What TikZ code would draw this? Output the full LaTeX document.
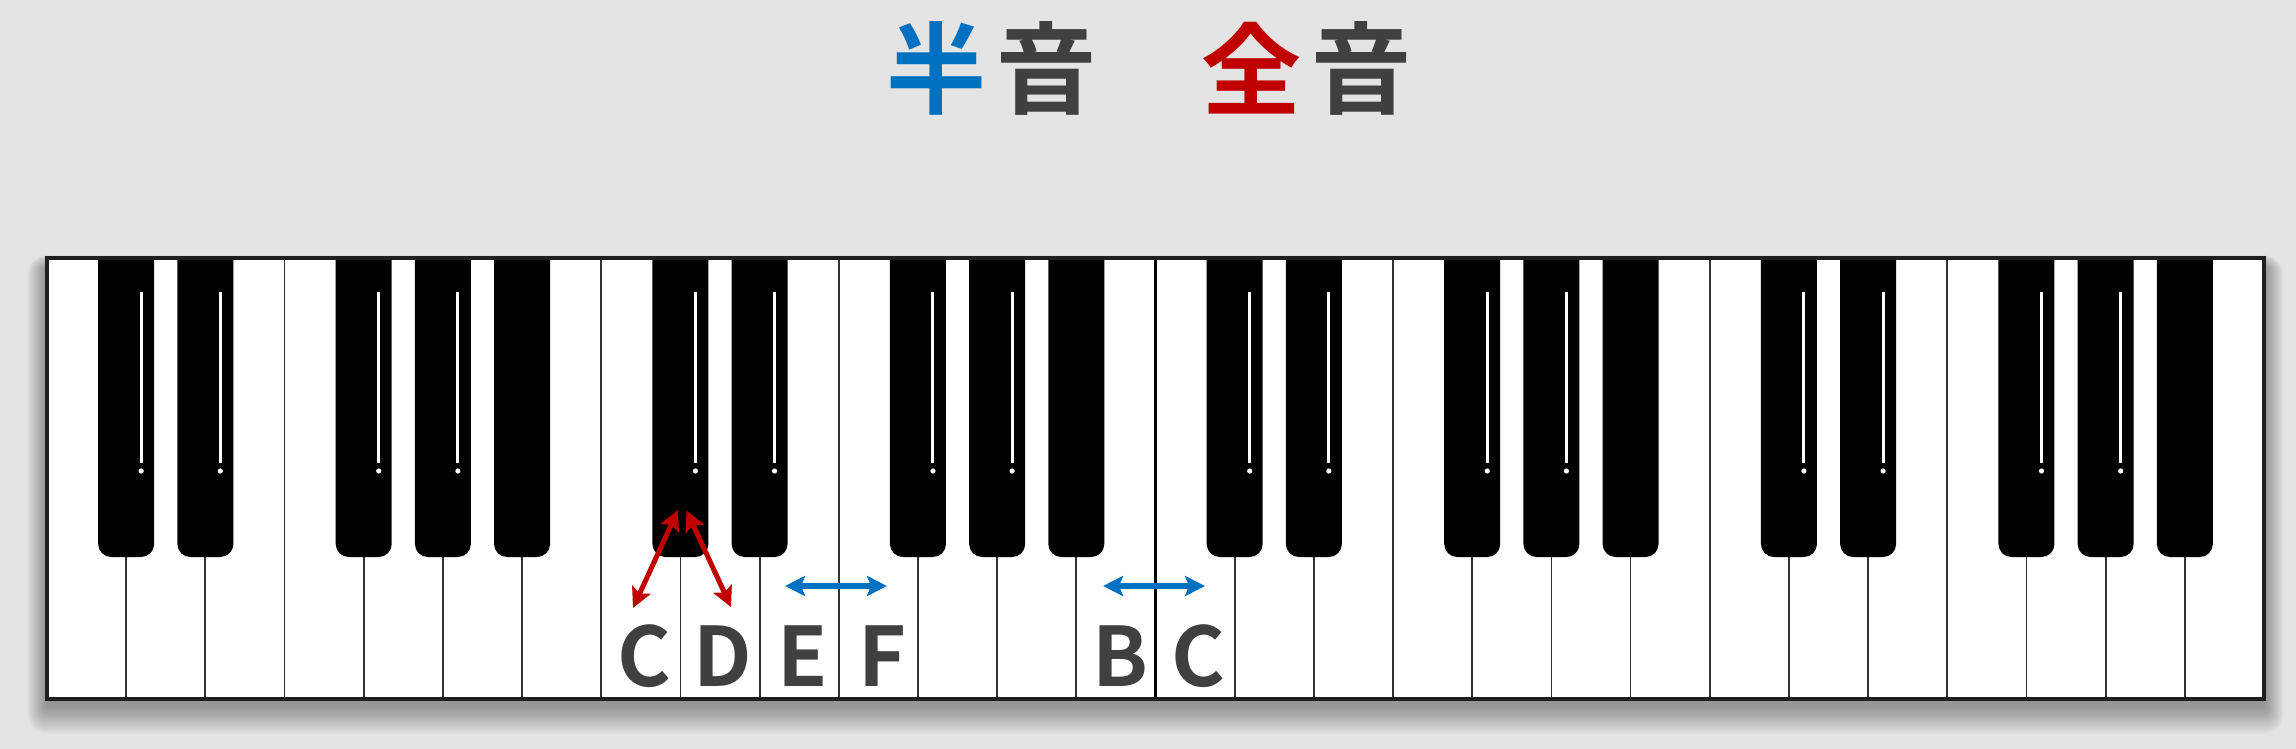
\documentclass[tikz,border=0pt]{standalone}
\usepackage{fontspec}
\newfontfamily\cjk{Noto Sans CJK JP}[BoldFont={Noto Sans CJK JP Bold}]
\usetikzlibrary{arrows.meta}
\definecolor{bg}{RGB}{228,228,228}
\definecolor{txtgray}{RGB}{64,64,64}
\definecolor{myblue}{RGB}{0,112,192}
\definecolor{myred}{RGB}{192,0,0}
\definecolor{keyline}{RGB}{51,51,51}
\begin{document}
\begin{tikzpicture}[x=0.5pt,y=-0.5pt,
  titlech/.style={font=\cjk\bfseries\fontsize{50pt}{50pt}\selectfont, inner sep=0pt, anchor=center},
  keylabel/.style={font=\cjk\bfseries\fontsize{41pt}{41pt}\selectfont, text=txtgray, inner sep=0pt, anchor=center},
  redarrow/.style={draw=myred, line width=2.5pt, {Stealth[length=10pt,width=10pt,inset=2pt]}-{Stealth[length=10pt,width=10pt,inset=2pt]}},
  bluearrow/.style={draw=myblue, line width=2.8pt, {Stealth[length=10pt,width=10pt,inset=2pt]}-{Stealth[length=10pt,width=10pt,inset=2pt]}},
  whiteline/.style={draw=keyline, line width=0.9pt},
  blackkey/.style={fill=black},
]
% background
\fill[bg] (0,0) rectangle (2296,749);
\useasboundingbox (0,0) rectangle (2296,749);

% title
\node[titlech, text=myblue]  (t1) at (936,68)   {半};
\node[titlech, text=txtgray] (t2) at (1046.5,68) {音};
\node[titlech, text=myred]   (t3) at (1251.5,68) {全};
\node[titlech, text=txtgray] (t4) at (1361.5,68) {音};

% shadow of keyboard
\foreach \k in {1,...,16}{
  \fill[black, opacity=0.022, rounded corners={\k*0.6pt}]
    ({47-\k*1.2},{268-\k*0.8}) rectangle ({2264+\k*1.2},{705+\k*1.8});
}

% white keys
\fill[white] (47,258) rectangle (2264,699);
\foreach \i in {1,...,27}{
  \draw[whiteline] ({47+\i*79.1786},258) -- ({47+\i*79.1786},699);
}
\draw[draw=black, line width=1.8pt] ({47+14*79.1786},258) -- ({47+14*79.1786},699);

% black keys
\foreach \o in {0,1,2,3}{
  \foreach \b/\s in {1/1,2/1,4/1,5/1,6/0}{
    \pgfmathsetmacro{\cx}{47+(7*\o+\b)*79.1786}
    \fill[blackkey] ({\cx-28},258) [rounded corners=6.5pt] -- ({\cx-28},557) -- ({\cx+28},557) [sharp corners] -- ({\cx+28},258) -- cycle;
    \ifnum\s=1
      \draw[white, line width=1.5pt] ({\cx+15},292) -- ({\cx+15},463);
      \fill[white] ({\cx+15},471) circle (1.3pt);
    \fi
  }
}

% keyboard frame
\draw[draw=black!88, line width=1.6pt] (47,258) rectangle (2264,699);

% labels
\node[keylabel] (lC1) at ({47+7.5*79.1786+4},656) {C};
\node[keylabel] (lD)  at ({47+8.5*79.1786+3},656) {D};
\node[keylabel] (lE)  at ({47+9.5*79.1786+4},656) {E};
\node[keylabel] (lF)  at ({47+10.5*79.1786+4},656) {F};
\node[keylabel] (lB)  at ({47+13.5*79.1786+4},656) {B};
\node[keylabel] (lC2) at ({47+14.5*79.1786+3},656) {C};

% arrows
\coordinate (r1top) at (678,510);
\coordinate (r1bot) at (633,608);
\coordinate (r2top) at (686.5,510.5);
\coordinate (r2bot) at (731,607);
\coordinate (b1l) at (785,586);
\coordinate (b1r) at (887,586);
\coordinate (b2l) at (1103,586);
\coordinate (b2r) at (1205,586);
\draw[redarrow] (r1top) -- (r1bot);
\draw[redarrow] (r2top) -- (r2bot);
\draw[bluearrow] (b1l) -- (b1r);
\draw[bluearrow] (b2l) -- (b2r);
\end{tikzpicture}
\end{document}
